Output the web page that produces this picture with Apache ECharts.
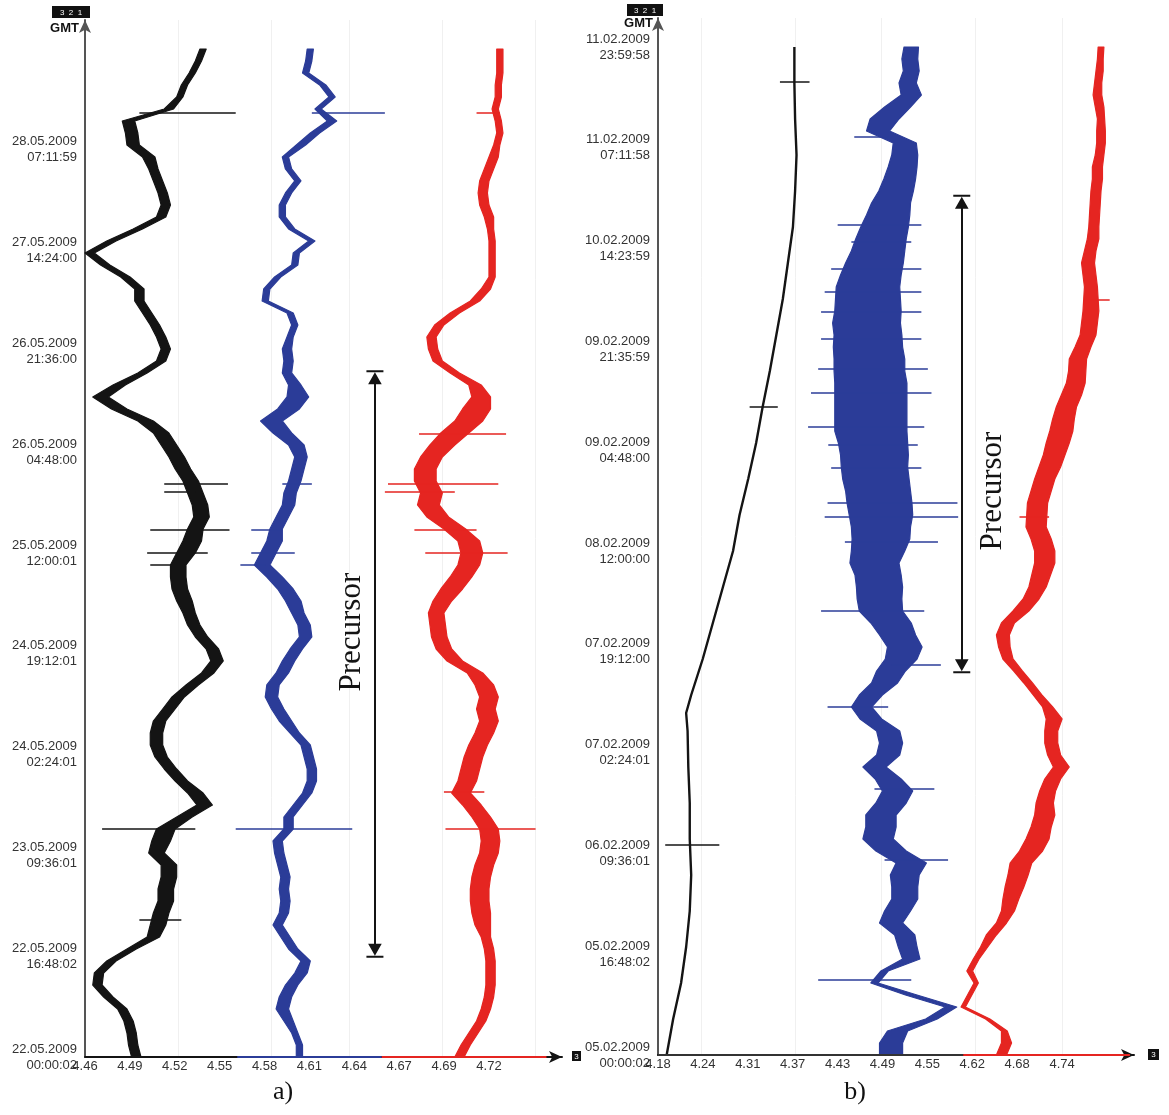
<!DOCTYPE html>
<html>
<head>
<meta charset="utf-8">
<title>GMT records a) b)</title>
<script src="https://cdn.jsdelivr.net/npm/echarts@6/dist/echarts.min.js"></script>
<style>
  html, body { margin: 0; padding: 0; background: #fff; }
  #main { width: 1169px; height: 1115px; }
</style>
</head>
<body>
<div id="main"></div>
<script>
// hours since the first sample (22.05.2009 00:00 for a, 05.02.2009 00:00 for b)
const hours = [0,2,4,6,8,10,12,14,16,18,20,22,24,26,28,30,32,34,36,38,40,42,44,46,48,50,52,54,56,58,
  60,62,64,66,68,70,72,74,76,78,80,82,84,86,88,90,92,94,96,98,100,102,104,106,108,110,112,114,116,118,
  120,122,124,126,128,130,132,134,136,138,140,142,144,146,148,150,152,154,156,158,160,162,164,166,168]

const ticksXA = ['4.46', '4.49', '4.52', '4.55', '4.58', '4.61', '4.64', '4.67', '4.69', '4.72']
const ticksXB = ['4.18', '4.24', '4.31', '4.37', '4.43', '4.49', '4.55', '4.62', '4.68', '4.74']
const ticksYA = ['22.05.2009\n00:00:02', '22.05.2009\n16:48:02', '23.05.2009\n09:36:01', '24.05.2009\n02:24:01',
  '24.05.2009\n19:12:01', '25.05.2009\n12:00:01', '26.05.2009\n04:48:00', '26.05.2009\n21:36:00',
  '27.05.2009\n14:24:00', '28.05.2009\n07:11:59']
const ticksYB = ['05.02.2009\n00:00:02', '05.02.2009\n16:48:02', '06.02.2009\n09:36:01', '07.02.2009\n02:24:01',
  '07.02.2009\n19:12:00', '08.02.2009\n12:00:00', '09.02.2009\n04:48:00', '09.02.2009\n21:35:59',
  '10.02.2009\n14:23:59', '11.02.2009\n07:11:58', '11.02.2009\n23:59:58']

// panel a, channel 1 (black)
const blackA = [4.493,4.491,4.490,4.488,4.484,4.475,4.468,4.469,4.477,4.490,
  4.504,4.507,4.509,4.512,4.512,4.514,4.514,4.506,4.509,4.512,
  4.524,4.537,4.531,4.522,4.515,4.509,4.506,4.506,4.508,4.514,
  4.520,4.529,4.539,4.545,4.542,4.535,4.530,4.527,4.524,4.521,
  4.520,4.520,4.525,4.529,4.531,4.535,4.534,4.531,4.528,4.523,
  4.519,4.514,4.509,4.499,4.482,4.470,4.482,4.497,4.509,4.512,
  4.509,4.505,4.500,4.495,4.495,4.486,4.473,4.463,4.477,4.494,
  4.509,4.512,4.510,4.507,4.504,4.501,4.491,4.490,4.488,4.514,
  4.521,4.524,4.529,4.533,4.536]
const blackAHalf = [.003,.003,.003,.003,.003,.003,.003,.003,.003,.003,
  .004,.005,.005,.005,.005,.005,.005,.005,.006,.006,
  .005,.005,.005,.004,.004,.004,.004,.004,.004,.004,
  .004,.004,.004,.004,.004,.004,.004,.004,.005,.005,
  .005,.005,.006,.006,.005,.005,.005,.005,.005,.005,
  .005,.005,.005,.005,.005,.005,.004,.003,.003,.003,
  .003,.003,.003,.003,.003,.003,.003,.003,.003,.003,
  .003,.003,.003,.003,.003,.004,.004,.004,.004,.003,
  .002,.002,.002,.002,.002]
// panel a, channel 2 (blue)
const blueA = [4.598,4.598,4.595,4.591,4.587,4.589,4.593,4.599,4.602,4.594,
  4.589,4.584,4.588,4.589,4.588,4.589,4.587,4.585,4.584,4.591,
  4.591,4.597,4.603,4.606,4.606,4.604,4.602,4.595,4.589,4.584,
  4.580,4.581,4.587,4.591,4.596,4.602,4.601,4.597,4.594,4.589,
  4.582,4.574,4.578,4.582,4.583,4.587,4.591,4.592,4.595,4.597,
  4.599,4.596,4.587,4.580,4.591,4.597,4.595,4.590,4.591,4.590,
  4.592,4.595,4.592,4.576,4.577,4.584,4.595,4.596,4.606,4.593,
  4.587,4.587,4.591,4.597,4.591,4.589,4.599,4.608,4.619,4.610,
  4.619,4.613,4.602,4.604,4.605]
const blueAHalf = [.002,.002,.002,.003,.004,.004,.004,.004,.003,.003,
  .003,.003,.003,.003,.003,.003,.003,.003,.003,.003,
  .003,.003,.003,.003,.003,.003,.003,.003,.004,.004,
  .004,.004,.004,.004,.004,.004,.004,.004,.005,.005,
  .005,.005,.005,.005,.004,.004,.004,.004,.004,.004,
  .004,.005,.006,.007,.007,.007,.004,.003,.003,.003,
  .002,.002,.002,.002,.002,.002,.002,.002,.002,.002,
  .002,.002,.002,.002,.002,.002,.003,.003,.003,.002,
  .002,.002,.002,.002,.002]
// panel a, channel 3 (red)
const redA = [4.701,4.705,4.710,4.715,4.718,4.720,4.721,4.721,4.721,4.720,
  4.718,4.716,4.715,4.714,4.714,4.715,4.717,4.720,4.721,4.720,
  4.715,4.709,4.702,4.706,4.708,4.710,4.713,4.717,4.720,4.718,
  4.720,4.717,4.711,4.698,4.691,4.688,4.687,4.686,4.690,4.696,
  4.702,4.707,4.709,4.707,4.698,4.687,4.681,4.683,4.679,4.679,
  4.683,4.690,4.698,4.707,4.712,4.715,4.711,4.698,4.687,4.684,
  4.683,4.688,4.698,4.711,4.718,4.722,4.722,4.722,4.722,4.721,
  4.720,4.717,4.716,4.717,4.720,4.723,4.725,4.727,4.726,4.724,
  4.726,4.726,4.727,4.727,4.727]
const redAHalf = [.003,.003,.003,.003,.003,.003,.003,.003,.003,.003,
  .003,.005,.006,.006,.006,.006,.006,.006,.006,.006,
  .006,.006,.006,.006,.006,.006,.006,.006,.006,.006,
  .006,.006,.005,.005,.005,.005,.005,.005,.006,.007,
  .007,.007,.007,.007,.007,.007,.007,.007,.007,.007,
  .007,.008,.009,.009,.009,.006,.004,.003,.003,.003,
  .003,.003,.003,.003,.003,.002,.002,.002,.002,.002,
  .003,.003,.003,.003,.003,.003,.002,.002,.002,.002,
  .002,.002,.002,.002,.002]

// panel b, channel 1 (black) is a smooth drift, read at its own times
const hoursBlackB = [0,6,12,18,24,30,36,42,48,54,57,60,66,72,78,84,90,96,102,108,114,120,126,132,138,144,150,156,162,168]
const blackB = [4.192,4.201,4.212,4.219,4.224,4.226,4.224,4.224,4.222,4.221,4.219,4.226,4.242,4.256,4.270,
  4.284,4.293,4.305,4.316,4.325,4.335,4.344,4.353,4.360,4.367,4.370,4.372,4.370,4.369,4.369]
// panel b, channel 2 (blue)
const blueB = [4.503,4.503,4.512,4.559,4.586,4.531,4.480,4.494,4.531,4.526,
  4.522,4.503,4.512,4.522,4.522,4.522,4.531,4.503,4.485,4.489,
  4.489,4.503,4.512,4.499,4.480,4.499,4.503,4.499,4.475,4.462,
  4.475,4.494,4.503,4.517,4.522,4.512,4.503,4.489,4.487,4.487,
  4.485,4.480,4.485,4.489,4.489,4.489,4.487,4.485,4.482,4.480,
  4.480,4.478,4.475,4.475,4.475,4.475,4.475,4.473,4.473,4.471,
  4.471,4.469,4.471,4.471,4.471,4.475,4.480,4.485,4.489,4.494,
  4.499,4.503,4.510,4.515,4.519,4.522,4.522,4.485,4.494,4.512,
  4.531,4.526,4.531,4.529,4.531]
const blueBHalf = [.016,.016,.014,.008,.008,.008,.005,.005,.012,.013,
  .014,.016,.018,.018,.018,.020,.021,.021,.021,.021,
  .021,.021,.021,.018,.016,.016,.016,.016,.015,.014,
  .016,.018,.020,.022,.024,.025,.028,.030,.031,.032,
  .032,.034,.037,.040,.041,.044,.045,.045,.046,.046,
  .047,.048,.050,.050,.050,.050,.050,.049,.049,.048,
  .047,.047,.046,.045,.044,.042,.040,.037,.035,.033,
  .030,.027,.024,.022,.020,.018,.016,.016,.020,.018,
  .014,.012,.011,.011,.010]
// panel b, channel 3 (red)
const redB = [4.656,4.663,4.660,4.637,4.603,4.612,4.621,4.612,4.621,4.632,
  4.642,4.656,4.665,4.669,4.674,4.679,4.683,4.697,4.706,4.711,
  4.716,4.716,4.720,4.727,4.739,4.729,4.725,4.725,4.729,4.720,
  4.706,4.693,4.679,4.665,4.660,4.658,4.665,4.683,4.697,4.706,
  4.711,4.716,4.716,4.711,4.704,4.705,4.706,4.711,4.716,4.723,
  4.729,4.734,4.739,4.742,4.746,4.753,4.759,4.761,4.762,4.769,
  4.776,4.778,4.780,4.780,4.780,4.778,4.776,4.779,4.783,4.784,
  4.785,4.786,4.787,4.789,4.789,4.792,4.794,4.794,4.794,4.792,
  4.789,4.790,4.792,4.793,4.794]
const redBHalf = [.007,.007,.004,.003,.003,.003,.003,.004,.004,.005,
  .007,.007,.009,.011,.013,.014,.015,.016,.016,.014,
  .014,.012,.011,.011,.011,.009,.009,.009,.011,.007,
  .006,.006,.006,.007,.008,.009,.009,.011,.011,.012,
  .013,.014,.014,.014,.014,.014,.014,.014,.014,.015,
  .015,.016,.016,.015,.014,.014,.013,.012,.012,.011,
  .011,.011,.011,.010,.009,.009,.009,.008,.008,.007,
  .007,.007,.007,.007,.007,.006,.006,.006,.005,.006,
  .006,.005,.005,.004,.004]

// single large excursions: [hour, from value, to value]
const spikesBlackA = [[157.4,4.495,4.557],[95.6,4.511,4.552],[94.2,4.511,4.531],[87.8,4.502,4.553],
  [84.0,4.500,4.539],[82.0,4.502,4.524],[38.1,4.471,4.531],[22.8,4.495,4.522]]
const spikesBlueA = [[157.3,4.606,4.653],[95.6,4.587,4.606],[87.8,4.567,4.587],[84.0,4.567,4.595],
  [82.0,4.560,4.576],[38.1,4.557,4.632]]
const spikesRedA = [[157.3,4.712,4.727],[103.9,4.675,4.731],[95.6,4.655,4.726],[94.2,4.653,4.698],
  [87.8,4.672,4.712],[84.0,4.679,4.732],[44.2,4.691,4.717],[38.1,4.692,4.750]]
const spikesBlackB = [[162.2,4.349,4.390],[108.0,4.307,4.346],[35.0,4.190,4.265]]
const spikesBlueB = [[153.0,4.452,4.500],[138.3,4.429,4.545],[135.6,4.448,4.531],[131.0,4.420,4.545],
  [127.2,4.411,4.545],[123.9,4.406,4.545],[119.4,4.406,4.545],[114.4,4.402,4.554],[110.3,4.392,4.559],
  [104.7,4.388,4.549],[101.7,4.416,4.540],[97.8,4.420,4.545],[92.0,4.415,4.595],[89.7,4.411,4.596],
  [85.6,4.439,4.568],[74.1,4.406,4.549],[65.0,4.503,4.572],[58.0,4.415,4.499],[44.4,4.480,4.563],
  [32.5,4.494,4.582],[12.6,4.402,4.531]]
const spikesRedB = [[125.8,4.780,4.806],[89.7,4.681,4.722]]

// precursor arrow: [value position, lower end hour, upper end hour]
const precursorA = [4.6466, 17.7, 113.3]
const precursorB = [4.601, 64.8, 142.2]
// where the word "Precursor" sits: [value position, hour]
const precursorTextA = [4.6318, 70.8]
const precursorTextB = [4.6443, 94.0]

// coloured pieces of the value axes (break points)
const axisBreaksA = [4.46, 4.558, 4.651, 4.757]
const axisBreaksB = [4.18, 4.603, 4.834]

const BLACK = '#141414'
const BLUE = '#2b3c98'
const RED = '#e52521'
const FONT = 'Liberation Sans'
const SERIF = 'Liberation Serif'
const ARROW = 'path://M0,0L20,0L20,2.5L0,2.5Z M10,2.5L2,17L18,17Z'

const stepA = (4.72 - 4.46) / 9
const stepB = (4.74 - 4.18) / 9

const chart = echarts.init(document.getElementById('main'))

function band (idx, times, center, half, color) {
  const lo = center.map((c, i) => [c - half[i], times[i]])
  const hi = center.map((c, i) => [c + half[i], times[i]]).reverse()
  const ring = lo.concat(hi)
  return {
    type: 'custom',
    xAxisIndex: idx,
    yAxisIndex: idx,
    silent: true,
    z: 3,
    data: [ring[0]],
    renderItem: (params, api) => ({
      type: 'polygon',
      shape: { points: ring.map(p => api.coord(p)) },
      style: { fill: color, stroke: color, lineWidth: 1.2, lineJoin: 'round' }
    })
  }
}

function spikes (idx, list, color) {
  return {
    type: 'lines',
    coordinateSystem: 'cartesian2d',
    xAxisIndex: idx,
    yAxisIndex: idx,
    silent: true,
    z: 3,
    lineStyle: { color: color, width: 1.5, opacity: 1 },
    data: list.map(s => ({ coords: [[s[1], s[0]], [s[2], s[0]]] }))
  }
}

function axisPieces (idx, breaks, colors) {
  const out = []
  for (let i = 0; i < breaks.length - 1; i++) {
    out.push({
      type: 'line',
      xAxisIndex: idx,
      yAxisIndex: idx,
      data: [[breaks[i], 0], [breaks[i + 1], 0]],
      showSymbol: false,
      clip: false,
      silent: true,
      z: 6,
      lineStyle: { color: colors[i], width: 2 }
    })
  }
  return out
}

function gridLines (idx, min, step, ks) {
  return {
    type: 'line',
    xAxisIndex: idx,
    yAxisIndex: idx,
    data: [],
    z: 0,
    markLine: {
      silent: true,
      z: 0,
      symbol: 'none',
      label: { show: false },
      lineStyle: { color: '#f0f0f0', width: 1, type: 'solid' },
      data: ks.map(k => ({ xAxis: min + k * step }))
    }
  }
}

function precursor (idx, p, t) {
  return {
    type: 'line',
    xAxisIndex: idx,
    yAxisIndex: idx,
    data: [],
    z: 8,
    markLine: {
      silent: true,
      symbol: [ARROW, ARROW],
      symbolSize: [17, 14],
      lineStyle: { color: BLACK, width: 2, type: 'solid' },
      label: { show: false },
      data: [[{ coord: [p[0], p[1]] }, { coord: [p[0], p[2]] }]]
    },
    markPoint: {
      silent: true,
      symbol: 'rect',
      symbolSize: 1,
      itemStyle: { color: 'rgba(0,0,0,0)' },
      label: {
        show: true,
        position: 'inside',
        rotate: 90,
        formatter: 'Precursor',
        fontFamily: SERIF,
        fontSize: 31,
        color: BLACK
      },
      data: [{ coord: t }]
    }
  }
}

function xAxisOf (idx, min, max, step, labels) {
  return {
    type: 'value',
    gridIndex: idx,
    min: min,
    max: max,
    interval: step,
    axisLine: { show: true, lineStyle: { color: BLACK, width: 2 }, symbol: ['none', 'arrow'], symbolSize: [9, 13] },
    axisTick: { show: false },
    splitLine: { show: false },
    axisLabel: {
      formatter: (v, i) => labels[i] || '',
      color: '#333',
      fontFamily: FONT,
      fontSize: 13,
      margin: 3,
      showMinLabel: true,
      showMaxLabel: false
    }
  }
}

function yAxisOf (idx, max, labels) {
  return {
    type: 'value',
    gridIndex: idx,
    min: 0,
    max: max,
    interval: 16.8,
    axisLine: { show: true, lineStyle: { color: '#555', width: 2 }, symbol: ['none', 'arrow'], symbolSize: [9, 13] },
    axisTick: { show: false },
    splitLine: { show: false },
    axisLabel: {
      formatter: (v, i) => labels[i] || '',
      color: '#333',
      fontFamily: FONT,
      fontSize: 13,
      lineHeight: 16,
      margin: 8,
      showMinLabel: true,
      showMaxLabel: false
    }
  }
}

function boxLabel (x, y, w, h, txt) {
  return {
    type: 'group',
    children: [
      { type: 'rect', shape: { x: x, y: y, width: w, height: h }, style: { fill: '#111' } },
      { type: 'text', x: x + w / 2, y: y + h / 2 + 0.5, style: { text: txt, fill: '#fff', font: '8px ' + FONT, align: 'center', verticalAlign: 'middle' } }
    ]
  }
}

const option = {
  animation: false,
  backgroundColor: '#fff',
  grid: [
    { left: 85, top: 20, right: 607, bottom: 58 },
    { left: 658, top: 18, right: 35, bottom: 60 }
  ],
  xAxis: [
    xAxisOf(0, 4.46, 4.767, stepA, ticksXA),
    xAxisOf(1, 4.18, 4.8397, stepB, ticksXB)
  ],
  yAxis: [
    yAxisOf(0, 172.83, ticksYA),
    yAxisOf(1, 172.83, ticksYB)
  ],
  graphic: [
    boxLabel(52, 6, 38, 12, '3  2  1'),
    { type: 'text', x: 79, y: 28, style: { text: 'GMT', fill: '#111', font: 'bold 13px ' + FONT, align: 'right', verticalAlign: 'middle' } },
    boxLabel(627, 4, 36, 12, '3  2  1'),
    { type: 'text', x: 653, y: 23, style: { text: 'GMT', fill: '#111', font: 'bold 13px ' + FONT, align: 'right', verticalAlign: 'middle' } },
    boxLabel(572, 1051, 9, 10, '3'),
    boxLabel(1148, 1049, 11, 11, '3'),
    { type: 'text', x: 283, y: 1092, style: { text: 'a)', fill: '#111', font: '26px ' + SERIF, align: 'center', verticalAlign: 'middle' } },
    { type: 'text', x: 855, y: 1092, style: { text: 'b)', fill: '#111', font: '26px ' + SERIF, align: 'center', verticalAlign: 'middle' } }
  ],
  series: [
    gridLines(0, 4.46, stepA, [2, 4, 6, 8, 10]),
    gridLines(1, 4.18, stepB, [1, 3, 5, 7, 9]),
    band(0, hours, blackA, blackAHalf, BLACK),
    band(0, hours, blueA, blueAHalf, BLUE),
    band(0, hours, redA, redAHalf, RED),
    spikes(0, spikesBlackA, BLACK),
    spikes(0, spikesBlueA, BLUE),
    spikes(0, spikesRedA, RED),
    {
      type: 'line',
      xAxisIndex: 1,
      yAxisIndex: 1,
      data: blackB.map((v, i) => [v, hoursBlackB[i]]),
      showSymbol: false,
      silent: true,
      z: 3,
      lineStyle: { color: BLACK, width: 2.4 }
    },
    band(1, hours, blueB, blueBHalf, BLUE),
    band(1, hours, redB, redBHalf, RED),
    spikes(1, spikesBlackB, BLACK),
    spikes(1, spikesBlueB, BLUE),
    spikes(1, spikesRedB, RED),
    ...axisPieces(0, axisBreaksA, [BLACK, BLUE, RED]),
    ...axisPieces(1, axisBreaksB, ['#333', RED]),
    precursor(0, precursorA, precursorTextA),
    precursor(1, precursorB, precursorTextB)
  ]
}

chart.setOption(option)
</script>
</body>
</html>
